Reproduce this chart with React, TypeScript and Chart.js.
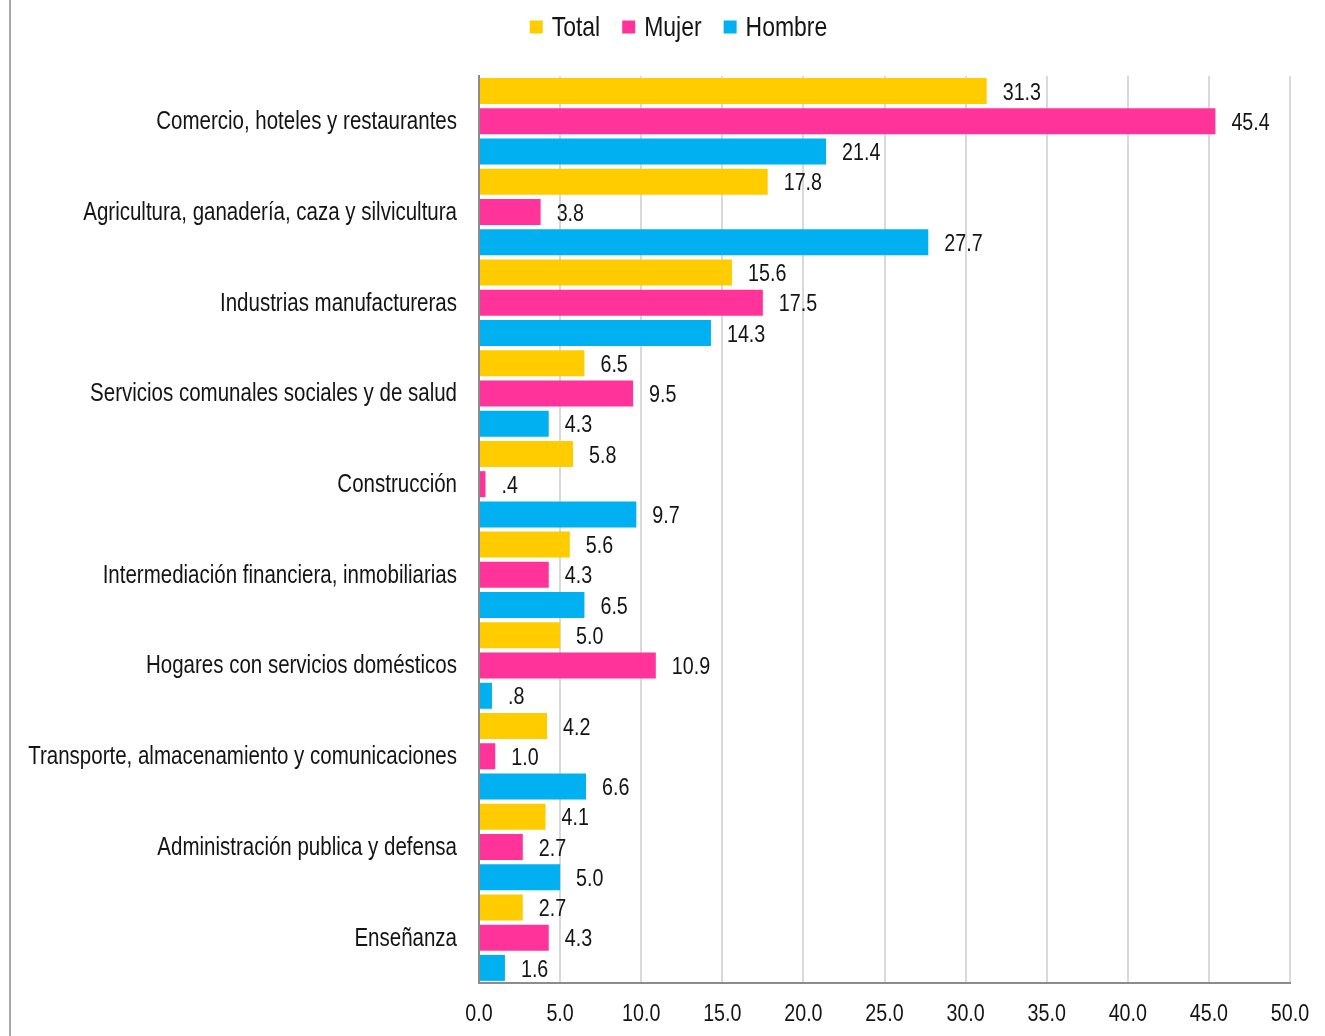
import React, { useEffect, useRef } from "react";
import { Chart, registerables } from "chart.js";

Chart.register(...registerables);

const categories = [
  "Comercio, hoteles y restaurantes",
  "Agricultura, ganadería, caza y silvicultura",
  "Industrias manufactureras",
  "Servicios comunales sociales y de salud",
  "Construcción",
  "Intermediación financiera, inmobiliarias",
  "Hogares con servicios domésticos",
  "Transporte, almacenamiento y comunicaciones",
  "Administración publica y defensa",
  "Enseñanza",
];
const totalValues = [31.3, 17.8, 15.6, 6.5, 5.8, 5.6, 5.0, 4.2, 4.1, 2.7];
const mujerValues = [45.4, 3.8, 17.5, 9.5, 0.4, 4.3, 10.9, 1.0, 2.7, 4.3];
const hombreValues = [21.4, 27.7, 14.3, 4.3, 9.7, 6.5, 0.8, 6.6, 5.0, 1.6];
const seriesNames = ["Total", "Mujer", "Hombre"];
const seriesColors = ["#FFCC00", "#FF3399", "#00B0F0"];
const xMin = 0;
const xMax = 50;
const xStep = 5;

const FONT = "'Liberation Sans', Arial, sans-serif";
const NARROW = 0.82;
const TEXT = "#141414";

const fmt = (v: number) => {
  const s = v.toFixed(1);
  return v < 1 && v > 0 ? s.replace(/^0/, "") : s;
};

function narrowText(
  ctx: CanvasRenderingContext2D,
  text: string,
  x: number,
  y: number,
  size: number,
  align: "left" | "right" | "center"
) {
  ctx.save();
  ctx.font = `${size}px ${FONT}`;
  ctx.fillStyle = TEXT;
  ctx.textBaseline = "middle";
  ctx.textAlign = align;
  ctx.translate(x, y);
  ctx.scale(NARROW, 1);
  ctx.fillText(text, 0, 0);
  ctx.restore();
}

function narrowWidth(ctx: CanvasRenderingContext2D, text: string, size: number) {
  ctx.save();
  ctx.font = `${size}px ${FONT}`;
  const w = ctx.measureText(text).width * NARROW;
  ctx.restore();
  return w;
}

const textPlugin = {
  id: "textPlugin",
  afterDraw(chart: any) {
    const ctx: CanvasRenderingContext2D = chart.ctx;
    const xs = chart.scales.x;
    const ys = chart.scales.y;
    // frame line at left
    ctx.save();
    ctx.strokeStyle = "#8c8c8c";
    ctx.lineWidth = 1.5;
    ctx.beginPath();
    ctx.moveTo(10, 0);
    ctx.lineTo(10, chart.height);
    ctx.stroke();
    ctx.restore();
    // category labels
    chart.data.labels.forEach((lab: string, i: number) => {
      narrowText(ctx, lab, xs.left - 22, ys.getPixelForValue(i) + 1, 25, "right");
    });
    // x tick labels
    for (let v = xMin; v <= xMax + 1e-9; v += xStep) {
      narrowText(ctx, v.toFixed(1), xs.getPixelForValue(v), xs.top + 31, 24, "center");
    }
    // value labels
    chart.data.datasets.forEach((ds: any, i: number) => {
      const meta = chart.getDatasetMeta(i);
      meta.data.forEach((bar: any, j: number) => {
        narrowText(ctx, fmt(ds.data[j]), bar.x + 16, bar.y + 2, 24, "left");
      });
    });
    // legend
    const size = 28;
    const box = 13;
    const gapBoxText = 9;
    const gapItems = 22;
    const widths = seriesNames.map((n) => narrowWidth(ctx, n, size));
    const total =
      widths.reduce((a, b) => a + b, 0) + seriesNames.length * (box + gapBoxText) + gapItems * (seriesNames.length - 1);
    let x = chart.width / 2 - total / 2 + 16;
    const y = 27;
    seriesNames.forEach((n, i) => {
      ctx.save();
      ctx.fillStyle = seriesColors[i];
      ctx.fillRect(x, y - box / 2, box, box);
      ctx.restore();
      narrowText(ctx, n, x + box + gapBoxText, y + 1, size, "left");
      x += box + gapBoxText + widths[i] + gapItems;
    });
  },
};

export default function App() {
  const ref = useRef<HTMLCanvasElement>(null);
  useEffect(() => {
    if (!ref.current) return;
    const chart = new Chart(ref.current, {
      type: "bar",
      data: {
        labels: categories,
        datasets: [totalValues, mujerValues, hombreValues].map((d, i) => ({
          label: seriesNames[i],
          data: d,
          backgroundColor: seriesColors[i],
          borderWidth: 0,
          categoryPercentage: 1.0,
          barPercentage: 0.86,
        })),
      },
      options: {
        indexAxis: "y",
        animation: false,
        responsive: false,
        maintainAspectRatio: false,
        layout: { padding: { top: 76, right: 35, left: 0, bottom: 0 } },
        plugins: {
          legend: { display: false },
          tooltip: { enabled: false },
        },
        scales: {
          x: {
            min: xMin,
            max: xMax,
            ticks: { stepSize: xStep, display: false },
            grid: { color: "#d9d9d9", lineWidth: 2, drawTicks: false },
            border: { color: "#8c8c8c", width: 2 },
            afterFit: (s: any) => {
              s.height = 53;
            },
          },
          y: {
            ticks: { display: false },
            grid: { display: false, drawTicks: false },
            border: { color: "#8c8c8c", width: 2 },
            afterFit: (s: any) => {
              s.width = 479;
            },
          },
        },
      },
      plugins: [textPlugin],
    } as any);
    return () => chart.destroy();
  }, []);
  return (
    <div style={{ position: "absolute", left: 0, top: 0, width: 1325, height: 1036 }}>
      <canvas ref={ref} width={1325} height={1036} style={{ width: 1325, height: 1036 }} />
    </div>
  );
}
